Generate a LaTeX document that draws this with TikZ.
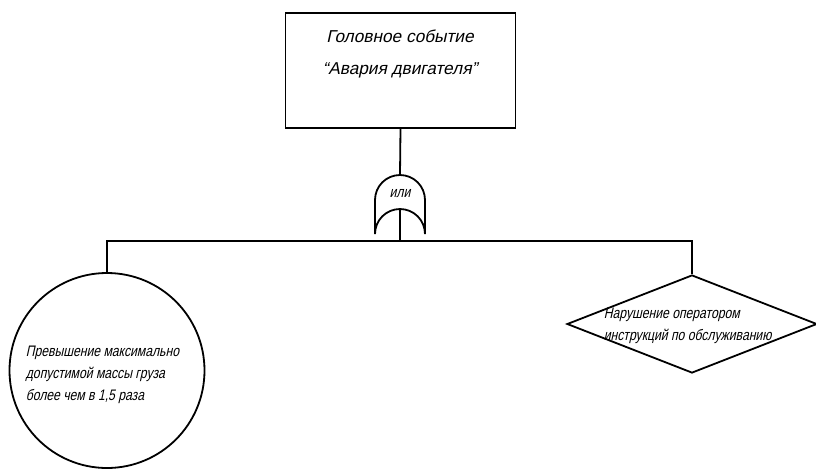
\documentclass[tikz,border=0pt]{standalone}
\usepackage{fontspec}
\newfontfamily\gost{Liberation Sans}[FakeStretch=0.8, FakeSlant=0.22]
\newfontfamily\gostwide{Liberation Sans}[FakeSlant=0.22]
\usetikzlibrary{shapes.geometric}

\begin{document}
\begin{tikzpicture}[x=0.5pt, y=-0.5pt, line width=0.9pt,
  txt/.style={font=\gost\fontsize{7.6}{11}\selectfont, align=left, inner sep=0pt}]
\useasboundingbox (0,0) rectangle (816,468);
\node[draw, minimum width=115pt, minimum height=57.5pt] (event) at (400.5,70.5) {};
\node[txt, align=center, font=\gostwide\fontsize{8.6}{16}\selectfont, anchor=north] (eventtxt) at (400,29) {Головное событие\\“Авария двигателя”};
\coordinate (gtop) at (400,175);
\coordinate (gbot) at (400,209.5);
\coordinate (bus) at (400,241);
\draw (375,234) -- (375,200) arc[start angle=180, end angle=0, radius=12.5pt] -- (425,234)
  arc[start angle=0, end angle=180, radius=12.5pt];
\node[txt] (gatetxt) at (400,194) {или};
\node[draw, circle, minimum size=97.5pt] (over) at (107,370.5) {};
\node[txt, anchor=north west] (overtxt) at (25,345.5) {Превышение максимально\\допустимой массы груза\\более чем в 1,5 раза};
\node[draw, diamond, minimum width=125pt, minimum height=49pt, inner sep=0pt] (oper) at (692,324) {};
\node[txt, anchor=north west] (opertxt) at (603,307.5) {Нарушение оператором\\инструкций по обслуживанию};
\draw (event.south) -- (gtop);
\draw (gbot) -- (bus);
\draw (over.north) |- (bus) -| (oper.north);
\end{tikzpicture}
\end{document}
